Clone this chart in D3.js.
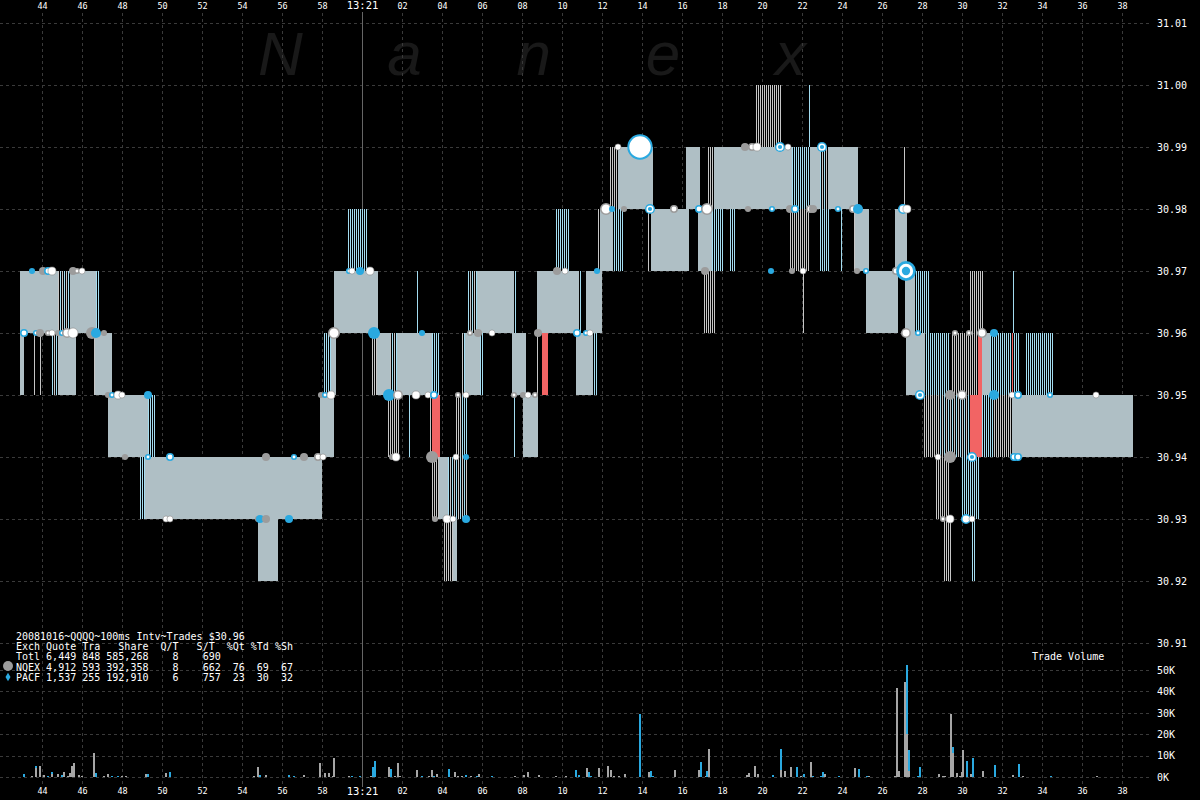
<!DOCTYPE html>
<html><head><meta charset="utf-8">
<script src="https://cdn.jsdelivr.net/npm/d3@7"></script>
<style>
html,body{margin:0;padding:0;background:#000;}
svg{display:block;}
</style></head><body>
<svg id="chart" width="1200" height="800"></svg>
<script>
// ---------- DATA (times = seconds after 13:20:00) ----------
const timeTicks = [44,46,48,50,52,54,56,58,60,62,64,66,68,70,72,74,76,78,80,82,84,86,88,90,92,94,96,98];
const priceTicks = [30.91,30.92,30.93,30.94,30.95,30.96,30.97,30.98,30.99,31.00,31.01];
const volumeTicks = [0,10,20,30,40,50];   // thousands of shares

// quote spans: [start, end, bid, ask, kind]  kind: S=steady, M=flicker both, B=flicker PACF, G=flicker NQEX, R=crossed
const quoteSpans = [
 [42.90,44.80,30.96,30.97,"S"],[44.80,45.40,30.96,30.97,"M"],[45.40,46.70,30.96,30.97,"S"],[46.70,46.90,30.96,30.97,"B"],
 [42.90,43.10,30.95,30.96,"S"],[43.60,43.65,30.95,30.96,"G"],[43.90,43.95,30.95,30.96,"G"],[44.50,44.80,30.95,30.96,"M"],
 [44.80,45.70,30.95,30.96,"S"],[46.60,46.65,30.95,30.96,"G"],[46.65,47.50,30.95,30.96,"S"],
 [47.30,49.30,30.94,30.95,"S"],[49.30,49.65,30.94,30.95,"B"],
 [48.85,49.15,30.93,30.94,"B"],[49.15,58.00,30.93,30.94,"S"],[54.80,55.80,30.92,30.93,"S"],
 [57.90,58.60,30.94,30.95,"S"],[58.05,58.45,30.95,30.96,"B"],[58.45,58.70,30.95,30.96,"S"],
 [58.60,60.80,30.96,30.97,"S"],[59.25,60.30,30.97,30.98,"B"],
 [60.50,60.75,30.95,30.96,"G"],[60.75,61.40,30.95,30.96,"S"],[61.40,61.75,30.95,30.96,"M"],[61.75,63.50,30.95,30.96,"S"],[63.50,63.90,30.95,30.96,"B"],
 [62.75,62.80,30.96,30.97,"B"],
 [61.30,61.85,30.94,30.95,"G"],[62.35,62.40,30.94,30.95,"B"],[63.40,63.45,30.94,30.95,"G"],
 [63.50,63.85,30.93,30.94,"G"],[63.85,64.30,30.93,30.94,"S"],[64.30,65.25,30.93,30.94,"M"],
 [64.05,64.55,30.92,30.93,"G"],[64.55,64.75,30.92,30.93,"S"],
 [64.70,65.00,30.94,30.95,"G"],[65.00,65.30,30.94,30.95,"B"],
 [65.00,65.15,30.95,30.96,"M"],[65.15,65.90,30.95,30.96,"S"],[65.90,66.05,30.95,30.96,"B"],
 [65.30,65.75,30.96,30.97,"M"],[65.75,67.60,30.96,30.97,"S"],[67.65,67.70,30.96,30.97,"B"],
 [67.50,68.20,30.95,30.96,"S"],[67.60,67.65,30.94,30.95,"B"],[68.05,68.80,30.94,30.95,"S"],
 [68.75,68.80,30.95,30.96,"G"],
 [68.75,70.85,30.96,30.97,"S"],[70.90,70.95,30.96,30.97,"B"],[69.65,70.35,30.97,30.98,"B"],
 [70.70,71.55,30.95,30.96,"S"],[71.55,71.75,30.95,30.96,"B"],[71.20,72.00,30.96,30.97,"S"],
 [71.80,71.85,30.97,30.98,"G"],[71.90,72.55,30.97,30.98,"S"],[72.55,73.05,30.97,30.98,"B"],
 [72.40,72.80,30.98,30.99,"G"],[72.80,74.55,30.98,30.99,"S"],
 [74.30,74.35,30.97,30.98,"G"],[74.45,76.35,30.97,30.98,"S"],[76.20,76.90,30.98,30.99,"S"],
 [76.80,77.50,30.97,30.98,"S"],[77.50,78.05,30.97,30.98,"B"],[78.35,78.70,30.97,30.98,"B"],
 [77.10,77.70,30.96,30.97,"G"],
 [77.30,77.60,30.98,30.99,"G"],[77.60,81.50,30.98,30.99,"S"],[81.50,82.40,30.98,30.99,"B"],[82.40,82.90,30.98,30.99,"S"],
 [82.90,83.30,30.98,30.99,"M"],[83.30,84.80,30.98,30.99,"S"],
 [79.70,80.95,30.99,31.00,"G"],[82.35,82.40,30.99,31.00,"B"],
 [81.40,82.40,30.97,30.98,"G"],[82.05,82.10,30.96,30.97,"G"],[82.85,83.40,30.97,30.98,"B"],[83.95,84.00,30.97,30.98,"B"],
 [84.60,84.65,30.97,30.98,"G"],[84.65,85.35,30.97,30.98,"S"],[85.20,86.80,30.96,30.97,"S"],[86.65,87.25,30.97,30.98,"S"],
 [87.10,87.15,30.98,30.99,"G"],[87.15,87.65,30.96,30.97,"S"],[87.65,88.40,30.96,30.97,"B"],
 [87.20,88.15,30.95,30.96,"S"],[88.15,89.40,30.95,30.96,"B"],[89.50,90.75,30.95,30.96,"G"],[91.00,91.40,30.95,30.96,"S"],
 [91.40,92.90,30.95,30.96,"B"],[93.15,94.60,30.95,30.96,"B"],
 [90.40,91.05,30.96,30.97,"G"],[92.55,92.60,30.96,30.97,"B"],
 [88.05,88.90,30.94,30.95,"G"],[88.90,90.40,30.94,30.95,"M"],[91.00,91.55,30.94,30.95,"B"],[91.55,92.50,30.94,30.95,"G"],
 [92.50,98.55,30.94,30.95,"S"],
 [88.70,89.40,30.93,30.94,"G"],[89.95,90.90,30.93,30.94,"B"],
 [89.10,89.45,30.92,30.93,"G"],[90.45,90.70,30.92,30.93,"B"],
 [63.50,63.90,30.94,30.95,"R"],[69.00,69.30,30.95,30.96,"R"],[90.80,91.00,30.95,30.96,"R"],[92.50,92.55,30.95,30.96,"R"],
 [90.40,91.00,30.94,30.95,"R"]
];

// trades: [time, price, kind, shares (K)]  kind: N=NQEX, P=PACF, NW/PW=white with exch ring, PC=PACF concentric, W=white
const trades = [
 [43.50,30.97,"P",0.3],[44.05,30.97,"N",1.1],[44.30,30.97,"PW",1.1],[44.50,30.97,"W",1.1],[45.55,30.97,"N",1.1],[45.75,30.97,"NW",0.3],[46.00,30.97,"W",0.3],
 [43.10,30.96,"PW",1.1],[43.70,30.96,"PW",0.3],[43.90,30.96,"N",1.1],[44.30,30.96,"NW",0.3],[44.50,30.96,"W",0.3],[44.80,30.96,"N",0.3],
 [45.00,30.96,"PW",0.3],[45.25,30.96,"NW",2.5],[45.55,30.96,"W",2.5],[46.50,30.96,"N",4.4],[46.70,30.96,"P",2.5],[47.10,30.96,"N",0.3],
 [47.30,30.95,"N",0.3],[47.50,30.95,"PW",0.3],[47.80,30.95,"W",1.1],[48.00,30.95,"W",0.3],[49.30,30.95,"P",1.1],
 [48.15,30.94,"N",0.3],[49.30,30.94,"PW",0.3],[50.40,30.94,"PW",1.1],[50.20,30.93,"W",0.3],[50.40,30.93,"W",0.3],
 [54.80,30.93,"N",0.3],[54.90,30.93,"P",1.1],[55.20,30.93,"N",1.1],[56.35,30.93,"P",1.1],
 [55.20,30.94,"N",1.1],[56.60,30.94,"PW",0.3],[57.10,30.94,"N",1.1],[57.80,30.94,"NW",1.1],[58.05,30.94,"W",0.3],
 [57.95,30.95,"N",0.3],[58.15,30.95,"PW",0.3],[58.45,30.95,"W",1.1],
 [59.35,30.97,"PW",0.3],[59.50,30.97,"W",0.3],[59.90,30.97,"P",1.1],[60.40,30.97,"W",1.1],
 [58.60,30.96,"NW",4.4],[60.60,30.96,"P",4.4],[63.00,30.96,"P",0.3],
 [61.35,30.95,"P",4.4],[61.80,30.95,"NW",2.5],[62.70,30.95,"W",1.1],[63.30,30.95,"W",0.3],[63.60,30.95,"PW",1.1],
 [61.50,30.94,"N",0.3],[61.70,30.94,"W",1.1],[63.50,30.94,"N",4.4],[64.70,30.94,"W",0.3],[65.20,30.94,"P",0.3],
 [63.65,30.93,"N",0.3],[64.25,30.93,"W",1.1],[64.55,30.93,"W",0.3],[65.20,30.93,"P",1.1],
 [64.80,30.95,"NW",0.3],[65.20,30.95,"W",0.3],[65.40,30.96,"NW",0.3],[65.80,30.96,"N",1.1],[66.50,30.96,"W",0.3],
 [67.60,30.95,"NW",0.3],[68.05,30.95,"N",0.3],[68.30,30.95,"W",0.3],[68.65,30.95,"NW",0.3],[68.80,30.96,"N",1.1],
 [69.75,30.97,"N",1.1],[70.15,30.97,"W",0.3],[70.75,30.96,"PW",1.1],[71.20,30.96,"PW",0.3],[71.40,30.96,"W",0.3],[71.75,30.97,"P",0.3],
 [72.80,30.99,"W",0.3],[73.90,30.99,"PW",30],[72.20,30.98,"NW",4.4],[72.50,30.98,"P",0.3],[73.10,30.98,"N",0.3],
 [74.40,30.98,"PC",2.5],[75.60,30.98,"NW",1.1],[76.85,30.98,"PW",1.1],[77.25,30.98,"NW",4.4],[79.30,30.98,"N",0.3],[80.50,30.98,"PW",0.3],
 [79.15,30.99,"N",1.1],[79.50,30.99,"NW",1.1],[79.75,30.99,"W",1.1],[80.90,30.99,"PC",2.5],[81.30,30.99,"W",0.3],
 [81.40,30.98,"N",1.1],[81.65,30.98,"PW",1.1],[82.40,30.98,"NW",1.1],[82.55,30.98,"N",1.1],[83.00,30.99,"PC",2.5],
 [83.80,30.98,"PW",0.3],[84.55,30.98,"NW",1.1],[84.80,30.98,"P",2.5],[87.05,30.98,"PW",2.5],[87.25,30.98,"W",1.1],
 [80.45,30.97,"P",0.3],[81.50,30.97,"N",0.3],[82.05,30.97,"W",0.3],[77.15,30.97,"N",1.1],[84.75,30.97,"N",0.3],[85.20,30.97,"PW",0.3],
 [86.70,30.97,"NW",1.1],[87.20,30.97,"PC",17],
 [87.20,30.96,"NW",2.5],[87.80,30.96,"PW",0.3],[89.65,30.96,"NW",0.3],[90.35,30.96,"NW",0.3],[91.00,30.96,"NW",2.5],[91.60,30.96,"P",1.1],
 [87.90,30.95,"PC",2.5],[89.40,30.95,"N",2.5],[90.00,30.95,"NW",2.5],[91.60,30.95,"P",2.5],[92.50,30.95,"W",0.3],[92.80,30.95,"PW",1.1],
 [94.40,30.95,"PW",0.3],[96.70,30.95,"W",0.3],
 [88.80,30.94,"W",0.3],[89.40,30.94,"N",4.4],[90.50,30.94,"PC",2.5],[92.60,30.94,"PW",1.1],[92.80,30.94,"PW",1.1],
 [89.05,30.93,"NW",0.3],[89.40,30.93,"W",1.1],[90.20,30.93,"PW",2.5],[90.50,30.93,"W",0.3]
];

// trade volume per 100ms interval: [time, thousands of shares, exchange]
const volumes = [
 [43.10,1.5,"P"],[43.50,0.3,"N"],[43.70,5.0,"P"],[43.70,4.0,"N"],[43.90,5.0,"N"],[44.10,1.0,"N"],[44.30,0.6,"P"],[44.50,2.5,"P"],[44.50,1.2,"N"],
 [44.80,1.5,"N"],[45.00,1.0,"P"],[45.10,2.5,"N"],[45.30,0.5,"N"],[45.40,2.0,"N"],[45.50,5.0,"N"],[45.60,6.7,"N"],[45.85,1.0,"N"],[46.00,0.6,"N"],
 [46.60,11.4,"N"],[46.70,2.0,"P"],[47.10,0.3,"N"],[47.30,1.5,"N"],[47.50,0.3,"P"],[47.80,0.3,"P"],[48.00,0.6,"N"],[48.20,0.3,"N"],
 [49.20,1.5,"N"],[49.30,1.5,"P"],[50.20,2.0,"N"],[50.40,2.5,"P"],[54.60,0.3,"N"],[54.80,4.8,"N"],[54.90,1.0,"P"],[55.20,1.0,"N"],
 [56.35,1.0,"P"],[56.60,0.3,"P"],[57.10,1.0,"N"],[57.90,6.7,"N"],[58.15,2.0,"N"],[58.35,2.0,"N"],[58.55,0.6,"N"],[58.60,9.0,"N"],
 [59.35,0.3,"N"],[59.50,0.6,"P"],[59.90,0.6,"P"],[60.45,0.6,"N"],[60.55,4.8,"P"],[60.65,7.7,"P"],[61.35,4.8,"N"],[61.45,3.9,"P"],
 [61.65,0.6,"N"],[61.80,6.7,"N"],[61.90,0.6,"N"],[62.75,3.4,"N"],[63.00,0.3,"P"],[63.35,0.5,"N"],[63.50,3.4,"N"],[63.60,0.5,"P"],
 [63.75,1.5,"N"],[64.35,3.9,"P"],[64.65,2.5,"N"],[64.80,0.6,"N"],[65.00,0.6,"N"],[65.20,1.0,"P"],[65.45,0.6,"N"],[65.75,0.6,"P"],
 [65.85,1.5,"N"],[66.50,0.6,"P"],[67.65,0.6,"N"],[68.10,1.0,"N"],[68.30,2.5,"N"],[68.85,1.0,"N"],[69.70,0.6,"N"],[70.20,0.3,"N"],
 [70.70,3.4,"P"],[70.85,1.0,"P"],[71.25,4.4,"N"],[71.35,2.5,"P"],[71.45,0.6,"P"],[71.85,4.4,"N"],[72.30,5.0,"N"],[72.45,1.0,"P"],
 [72.45,3.4,"N"],[72.60,0.6,"N"],[72.85,0.6,"N"],[73.15,1.5,"N"],[73.90,29.6,"P"],[74.35,2.5,"N"],[74.45,3.0,"P"],[74.55,0.3,"P"],
 [75.65,3.4,"N"],[76.85,3.4,"N"],[76.95,7.2,"P"],[77.20,0.6,"N"],[77.25,3.0,"P"],[77.35,13.2,"N"],[79.25,1.0,"N"],[79.35,2.0,"N"],
 [79.65,5.0,"N"],[79.80,1.5,"N"],[80.55,1.0,"P"],[80.95,13.2,"P"],[80.95,3.4,"N"],[81.15,3.0,"N"],[81.45,4.8,"N"],[81.75,4.8,"P"],
 [81.95,0.6,"N"],[82.10,1.5,"P"],[82.45,7.2,"N"],[82.55,0.3,"P"],[82.95,0.3,"P"],[83.05,2.5,"P"],[83.15,1.5,"N"],[83.85,0.6,"P"],
 [84.65,4.4,"N"],[84.85,3.9,"P"],[85.25,0.3,"P"],[85.35,0.3,"N"],[86.65,0.3,"N"],[86.75,41.5,"N"],[86.85,3.0,"N"],[87.15,44.3,"N"],
 [87.25,52.2,"P"],[87.25,20.0,"N"],[87.35,12.8,"P"],[87.35,2.6,"N"],[87.80,0.3,"P"],[87.90,4.8,"P"],[88.85,1.5,"N"],[89.05,0.6,"N"],
 [89.15,0.6,"N"],[89.45,29.3,"N"],[89.55,14.0,"P"],[89.55,11.3,"N"],[89.75,2.0,"N"],[89.90,0.6,"N"],[90.00,2.5,"N"],[90.05,12.8,"N"],
 [90.25,7.7,"P"],[90.45,1.5,"N"],[90.55,9.0,"P"],[91.05,3.0,"N"],[91.65,5.8,"P"],[92.55,1.0,"N"],[92.85,6.3,"P"],[93.05,0.3,"N"],
 [94.45,0.6,"P"],[96.75,0.3,"N"]
];

const legendLines = [
 "20081016~QQQQ~100ms Intv~Trades $30.96",
 "Exch Quote Tra   Share  Q/T   S/T  %Qt %Td %Sh",
 "Totl 6,449 848 585,268    8    690",
 "NQEX 4,912 593 392,358    8    662  76  69  67",
 "PACF 1,537 255 192,910    6    757  23  30  32"
];
const watermark = ["N","a","n","e","x"];

// ---------- SCALES ----------
const W = 1200, H = 800;
const xScale = d3.scaleLinear().domain([41.9, 101.9]).range([0, 1200]);
const yScale = d3.scaleLinear().domain([30.91, 31.01]).range([643, 23]);
const vScale = d3.scaleLinear().domain([0, 50]).range([777, 670]);
const rScale = d3.scaleSqrt().domain([0, 30]).range([2, 12.5]);

const BLUE = "#2aa9e0", LBLUE = "#a3dcf0", GRAY = "#9c9c9c", LGRAY = "#c6c6c6", RED = "#f26464", SOLID = "#afbfc5";

const svg = d3.select("#chart");
svg.append("rect").attr("width", W).attr("height", H).attr("fill", "#000");

// watermark
const wm = d3.scalePoint().domain(d3.range(watermark.length)).range([258, 775]);
svg.append("g").selectAll("text").data(watermark).join("text")
  .attr("x", (d, i) => wm(i)).attr("y", 75)
  .attr("font-family", "Liberation Sans, Arial, sans-serif").attr("font-style", "italic")
  .attr("font-size", 62).attr("fill", "#191919").text(d => d);

// grid
const grid = svg.append("g").attr("stroke", "#3a3a3a").attr("stroke-dasharray", "3,3").attr("shape-rendering", "crispEdges");
grid.selectAll(".v").data(timeTicks.filter(t => t !== 60)).join("line")
  .attr("x1", d => Math.round(xScale(d)) + 0.5).attr("x2", d => Math.round(xScale(d)) + 0.5)
  .attr("y1", 13).attr("y2", 787);
grid.selectAll(".h").data(priceTicks).join("line")
  .attr("x1", 0).attr("x2", 1150).attr("y1", d => Math.round(yScale(d)) + 0.5).attr("y2", d => Math.round(yScale(d)) + 0.5);
grid.selectAll(".hv").data(volumeTicks).join("line")
  .attr("x1", 0).attr("x2", 1150).attr("y1", d => Math.round(vScale(d)) + 0.5).attr("y2", d => Math.round(vScale(d)) + 0.5);
svg.append("line").attr("x1", Math.round(xScale(60)) + 0.5).attr("x2", Math.round(xScale(60)) + 0.5)
  .attr("y1", 12).attr("y2", 787).attr("stroke", "#666").attr("shape-rendering", "crispEdges");

// quote spans -> solid blocks and per-interval flicker lines
const order = {S: 0, M: 1, B: 2, G: 3, R: 4};
const spans = quoteSpans.slice().sort((a, b) => order[a[4]] - order[b[4]]);
const cols = [];
spans.forEach(d => {
  const x0 = Math.round(xScale(d[0])), x1 = Math.max(x0 + 1, Math.round(xScale(d[1])));
  const y0 = Math.round(yScale(d[3])), y1 = Math.round(yScale(d[2]));
  const k = d[4];
  if (k === "S" || k === "R") {
    cols.push({x: x0, w: x1 - x0, y: y0, h: y1 - y0, c: k === "R" ? RED : SOLID});
  } else {
    for (let x = x0; x < x1; x++) {
      let c = null;
      if (x1 - x0 === 1) c = k === "G" ? LGRAY : LBLUE;
      else if (k === "B" && x % 2 === 0) c = LBLUE;
      else if (k === "G" && x % 2 === 0) c = LGRAY;
      else if (k === "M" && x % 4 === 0) c = LBLUE;
      else if (k === "M" && x % 4 === 2) c = LGRAY;
      if (c) cols.push({x, w: 1, y: y0, h: y1 - y0, c});
    }
  }
});
svg.append("g").attr("shape-rendering", "crispEdges").selectAll("rect").data(cols).join("rect")
  .attr("x", d => d.x).attr("width", d => d.w).attr("y", d => d.y).attr("height", d => d.h).attr("fill", d => d.c);

// trades
const tg = svg.append("g");
trades.forEach(d => {
  const cx = xScale(d[0]), cy = yScale(d[1]), r = rScale(d[3]), k = d[2];
  if (k === "N") tg.append("circle").attr("cx", cx).attr("cy", cy).attr("r", r).attr("fill", GRAY);
  else if (k === "P") tg.append("circle").attr("cx", cx).attr("cy", cy).attr("r", r).attr("fill", BLUE);
  else if (k === "NW") tg.append("circle").attr("cx", cx).attr("cy", cy).attr("r", r - 0.8).attr("fill", "#fff").attr("stroke", GRAY).attr("stroke-width", 1.6);
  else if (k === "PW") tg.append("circle").attr("cx", cx).attr("cy", cy).attr("r", r - 0.8).attr("fill", "#fff").attr("stroke", BLUE).attr("stroke-width", r > 8 ? 2 : 1.6);
  else if (k === "W") tg.append("circle").attr("cx", cx).attr("cy", cy).attr("r", r).attr("fill", "#fff").attr("stroke", "#888").attr("stroke-width", 0.6);
  else if (k === "PC") {
    tg.append("circle").attr("cx", cx).attr("cy", cy).attr("r", r).attr("fill", BLUE);
    tg.append("circle").attr("cx", cx).attr("cy", cy).attr("r", r * 0.72).attr("fill", "#fff");
    tg.append("circle").attr("cx", cx).attr("cy", cy).attr("r", r * 0.42).attr("fill", BLUE);
  }
});

// volume bars
svg.append("g").attr("shape-rendering", "crispEdges").selectAll("rect").data(volumes).join("rect")
  .attr("x", d => Math.round(xScale(d[0])) - 1).attr("width", 2)
  .attr("y", d => vScale(d[1])).attr("height", d => vScale(0) - vScale(d[1]))
  .attr("fill", d => d[2] === "P" ? BLUE : "#a6a6a6");

// axes
const fmtT = s => s === 60 ? "13:21" : (s < 60 ? String(s) : String(s - 60).padStart(2, "0"));
function styleAxis(g) {
  g.select(".domain").remove();
  g.attr("font-family", "DejaVu Sans Mono, monospace").attr("color", "#fff");
}
svg.append("g").attr("transform", "translate(0,9)")
  .call(d3.axisTop(xScale).tickValues(timeTicks).tickFormat(fmtT).tickSize(0).tickPadding(0))
  .call(styleAxis).selectAll("text").attr("font-size", d => d === 60 ? 10.5 : 8.5);
svg.append("g").attr("transform", "translate(0,788)")
  .call(d3.axisBottom(xScale).tickValues(timeTicks).tickFormat(fmtT).tickSize(0).tickPadding(0))
  .call(styleAxis).selectAll("text").attr("font-size", d => d === 60 ? 10.5 : 8.5);
svg.append("g").attr("transform", "translate(1157,0)")
  .call(d3.axisRight(yScale).tickValues(priceTicks).tickFormat(d3.format(".2f")).tickSize(0).tickPadding(0))
  .call(styleAxis).selectAll("text").attr("font-size", 10);
svg.append("g").attr("transform", "translate(1157,0)")
  .call(d3.axisRight(vScale).tickValues(volumeTicks).tickFormat(d => d + "K").tickSize(0).tickPadding(0))
  .call(styleAxis).selectAll("text").attr("font-size", 10);

// legend
svg.append("g").selectAll("text").data(legendLines).join("text")
  .attr("x", 16).attr("y", (d, i) => 640 + i * 10.2)
  .attr("font-family", "DejaVu Sans Mono, monospace").attr("font-size", 10).attr("fill", "#fff")
  .attr("xml:space", "preserve").style("white-space", "pre").text(d => d);
svg.append("circle").attr("cx", 8).attr("cy", 666).attr("r", 5).attr("fill", GRAY);
svg.append("path").attr("d", d3.symbol(d3.symbolDiamond, 22)()).attr("transform", "translate(8,677)").attr("fill", BLUE);
svg.append("text").attr("x", 1032).attr("y", 660).attr("font-family", "DejaVu Sans Mono, monospace")
  .attr("font-size", 10).attr("fill", "#fff").text("Trade Volume");
</script></body></html>
